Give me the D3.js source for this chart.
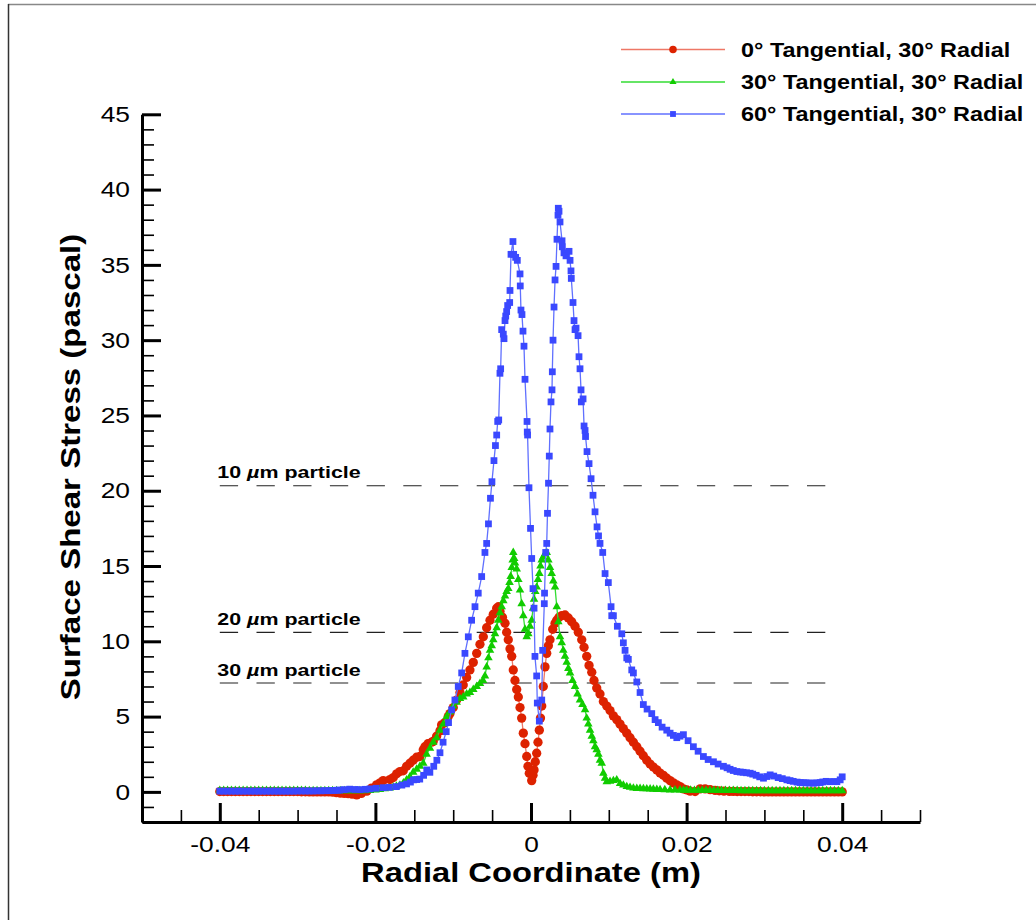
<!DOCTYPE html>
<html>
<head>
<meta charset="utf-8">
<script src="https://cdn.jsdelivr.net/npm/d3@7"></script>
<style>
  html, body { margin: 0; padding: 0; background: #fff; }
  svg { display: block; font-family: "Liberation Sans", Arial, Helvetica, sans-serif; }
</style>
</head>
<body>
<svg id="chart" width="1036" height="920"></svg>
<script>
// ---- DATA (radial coordinate in mm, shear stress in Pa) ----
const seriesNames = ["0° Tangential, 30° Radial", "30° Tangential, 30° Radial", "60° Tangential, 30° Radial"];

const red0 = [[-40,0.02],[-39.5,0.02],[-39,0.02],[-38.5,0.02],[-38,0.02],[-37.5,0.02],[-37,0.02],[-36.5,0.02],[-36,0.02],[-35.5,0.02],[-35,0.02],[-34.5,0.02],[-34,0.02],[-33.5,0.02],[-33,0.02],[-32.5,0.02],[-32,0.02],[-31.5,0.02],[-31,0.02],[-30.5,0.02],[-30,0.02],[-29.5,0.01],[-29,0.01],[-28.5,0],[-28,0],[-27.5,0],[-27,0],[-26.5,0],[-26,0],[-25.5,-0.02],[-25,-0.05],[-24.5,-0.08],[-24,-0.1],[-23.5,-0.12],[-23,-0.15],[-22.4,-0.2],[-21.8,-0.1],[-21.1,0.05],[-20.5,0.25],[-19.85,0.47],[-19.4,0.6],[-19.0,0.75],[-18.14,0.82],[-17.7,0.95],[-17.27,1.2],[-16.85,1.35],[-16.42,1.4],[-15.99,1.7],[-15.56,1.9],[-15.14,2.1],[-14.7,2.3],[-14.28,2.35],[-13.85,2.8],[-13.63,3.0],[-13.25,3.2],[-12.77,3.3],[-12.57,3.35],[-12.13,3.7],[-11.7,4.05],[-11.49,4.45],[-11.06,4.6],[-10.64,5.0],[-10.42,5.2],[-9.99,5.6],[-9.56,6.1],[-9.13,6.6],[-8.71,7.1],[-8.27,7.6],[-7.85,8.1],[-7.42,8.6],[-6.98,9.2],[-6.56,9.8],[-6.13,10.3],[-5.7,10.9],[-5.27,11.4],[-4.85,11.8],[-4.41,12.2],[-4.18,12.3],[-3.99,12.0],[-3.67,11.6],[-3.34,11.2],[-3.13,10.6],[-2.92,10.1],[-2.7,9.5],[-2.48,9.0],[-2.28,8.1],[-2.06,7.4],[-1.84,6.8],[-1.63,6.3],[-1.41,5.6],[-1.2,4.9],[-0.99,3.9],[-0.77,3.2],[-0.55,2.35],[-0.39,1.7],[-0.22,1.24],[0.09,0.75],[0.26,1.1],[0.39,1.46],[0.55,2.0],[0.73,2.57],[0.9,3.3],[1.07,4.1],[1.22,4.9],[1.38,5.7],[1.58,7.0],[1.8,8.3],[2.02,9.2],[2.23,9.7],[2.44,10.1],[2.79,10.8],[3.09,11.2],[3.31,11.4],[3.6,11.6],[3.95,11.7],[4.37,11.75],[4.8,11.55],[5.23,11.3],[5.66,11.0],[6.08,10.6],[6.52,10.1],[6.82,9.6],[7.16,9.0],[7.46,8.4],[7.81,7.95],[8.1,7.4],[8.45,6.9],[8.87,6.5],[9.3,6.0],[9.74,5.7],[10.16,5.4],[10.59,5.05],[11.02,4.8],[11.45,4.5],[11.87,4.2],[12.31,3.9],[12.73,3.6],[13.16,3.3],[13.6,3.0],[14.02,2.7],[14.44,2.4],[14.88,2.1],[15.31,1.85],[15.73,1.65],[16.17,1.46],[16.59,1.25],[17.02,1.1],[17.45,0.91],[17.88,0.75],[18.3,0.6],[18.74,0.47],[19.16,0.35],[19.59,0.2],[20.03,0.13],[20.45,0.05],[21.09,0.02],[21.74,0.2],[22.38,0.2],[23.02,0.15],[23.67,0.1],[24.2,0.07],[24.8,0.05],[25.5,0.03],[26,0.03],[26.5,0.02],[27,0.02],[27.5,0.02],[28,0.02],[28.5,0.01],[29,0.01],[29.5,0.01],[30,0],[30.5,0],[31,0],[31.5,0],[32,0],[32.5,0],[33,0],[33.5,0],[34,0],[34.5,0],[35,0],[35.5,0],[36,0],[36.5,0],[37,0],[37.5,0],[38,0],[38.5,0],[39,0],[39.5,0],[40,0]];

const green30 = [[-40,0.1],[-39.5,0.1],[-39,0.1],[-38.5,0.1],[-38,0.1],[-37.5,0.1],[-37,0.1],[-36.5,0.1],[-36,0.1],[-35.5,0.1],[-35,0.1],[-34.5,0.1],[-34,0.1],[-33.5,0.1],[-33,0.1],[-32.5,0.1],[-32,0.1],[-31.5,0.1],[-31,0.1],[-30.5,0.1],[-30,0.1],[-29.5,0.09],[-29,0.09],[-28.5,0.08],[-28,0.08],[-27.5,0.08],[-27,0.08],[-26.5,0.07],[-26,0.07],[-25.5,0.07],[-25,0.07],[-24.5,0.07],[-24,0.07],[-23.5,0.07],[-23,0.07],[-22.5,0.08],[-22,0.08],[-21.4,0.08],[-20.71,0.09],[-20.0,0.12],[-19.42,0.15],[-18.8,0.2],[-18.14,0.25],[-17.71,0.31],[-17.3,0.38],[-16.85,0.45],[-16.4,0.6],[-15.99,0.8],[-15.56,1.0],[-15.14,1.3],[-14.7,1.5],[-14.28,1.7],[-13.85,1.9],[-13.42,2.5],[-12.99,2.9],[-12.57,3.3],[-12.13,3.6],[-11.7,4.1],[-11.28,4.5],[-10.84,5.0],[-10.42,5.3],[-9.99,5.7],[-9.56,5.95],[-9.13,6.2],[-8.71,6.3],[-8.27,6.5],[-7.85,6.6],[-7.42,6.8],[-6.98,7.0],[-6.56,7.2],[-6.17,7.4],[-5.92,7.7],[-5.7,8.3],[-5.47,8.9],[-5.27,9.4],[-5.05,9.7],[-4.85,10.1],[-4.63,10.5],[-4.41,10.9],[-4.21,11.4],[-3.99,11.9],[-3.77,12.3],[-3.56,12.7],[-3.34,13.0],[-3.13,13.3],[-2.92,13.5],[-2.76,13.9],[-2.61,14.3],[-2.48,14.9],[-2.35,15.4],[-2.28,15.9],[-2.16,15.5],[-2.06,15.2],[-1.84,14.8],[-1.63,14.1],[-1.41,13.4],[-1.2,12.5],[-0.99,11.7],[-0.77,10.8],[-0.55,10.3],[-0.35,10.5],[-0.13,11.0],[0.09,11.4],[0.26,12.2],[0.39,12.8],[0.55,13.3],[0.73,13.6],[0.9,14.1],[1.07,14.5],[1.22,15.0],[1.38,15.4],[1.58,15.6],[1.8,15.8],[2.02,15.9],[2.23,15.4],[2.44,14.9],[2.66,14.5],[2.87,14.0],[3.09,13.6],[3.31,12.3],[3.51,11.3],[3.73,10.3],[3.95,9.9],[4.15,9.4],[4.37,9.0],[4.59,8.6],[4.8,8.2],[5.02,7.9],[5.34,7.4],[5.66,7.0],[5.98,6.5],[6.3,6.1],[6.62,5.8],[6.95,5.45],[7.16,4.9],[7.37,4.5],[7.59,4.1],[7.81,3.7],[8.01,3.4],[8.23,3.0],[8.45,2.8],[8.66,2.5],[8.87,2.1],[9.09,1.9],[9.3,1.24],[9.52,0.9],[9.74,0.68],[10.16,0.7],[10.59,0.75],[11.02,0.8],[11.45,0.55],[11.87,0.45],[12.31,0.35],[12.73,0.3],[13.16,0.25],[13.6,0.23],[14.02,0.22],[14.45,0.21],[14.88,0.2],[15.31,0.19],[15.73,0.18],[16.17,0.16],[16.59,0.15],[17.2,0.14],[17.88,0.13],[18.5,0.12],[19.16,0.12],[19.6,0.11],[20,0.11],[20.5,0.11],[21,0.1],[21.5,0.1],[22,0.1],[22.5,0.1],[23,0.1],[23.5,0.1],[24,0.09],[24.5,0.09],[25,0.09],[25.5,0.09],[26,0.09],[26.5,0.09],[27,0.08],[27.5,0.08],[28,0.08],[28.5,0.08],[29,0.08],[29.5,0.08],[30,0.08],[30.5,0.08],[31,0.08],[31.5,0.07],[32,0.07],[32.5,0.07],[33,0.07],[33.5,0.07],[34,0.07],[34.5,0.07],[35,0.07],[35.5,0.07],[36,0.07],[36.5,0.07],[37,0.07],[37.5,0.07],[38,0.07],[38.5,0.07],[39,0.07],[39.5,0.07],[40,0.07]];

const blue60 = [[-40,0.05],[-39.5,0.05],[-39,0.05],[-38.5,0.05],[-38,0.05],[-37.5,0.05],[-37,0.05],[-36.5,0.05],[-36,0.05],[-35.5,0.05],[-35,0.05],[-34.5,0.05],[-34,0.05],[-33.5,0.05],[-33,0.05],[-32.5,0.05],[-32,0.05],[-31.5,0.05],[-31,0.05],[-30.5,0.05],[-30,0.06],[-29.5,0.06],[-29,0.06],[-28.5,0.06],[-28,0.06],[-27.5,0.07],[-27,0.07],[-26.5,0.08],[-26,0.08],[-25.6,0.09],[-25.3,0.1],[-24.9,0.11],[-24.6,0.12],[-24,0.15],[-23.3,0.18],[-22.6,0.16],[-22.0,0.15],[-21.3,0.17],[-20.7,0.2],[-19.9,0.24],[-19.0,0.28],[-18.2,0.3],[-17.3,0.35],[-16.6,0.45],[-16.0,0.53],[-15.5,0.65],[-15.1,0.8],[-14.7,0.82],[-14.3,0.85],[-13.8,1.1],[-13.4,1.46],[-13.0,1.3],[-12.5,1.7],[-12.1,2.1],[-11.7,2.6],[-11.3,3.3],[-10.9,4.0],[-10.6,4.6],[-10.2,5.45],[-9.78,6.1],[-9.35,7.0],[-8.91,7.9],[-8.49,9.2],[-8.06,10.3],[-7.63,11.4],[-7.2,12.3],[-6.78,13.2],[-6.34,14.3],[-5.92,15.9],[-5.7,16.5],[-5.47,17.8],[-5.21,19.5],[-5.02,20.6],[-4.76,22.0],[-4.57,23.0],[-4.41,23.7],[-4.28,24.6],[-4.15,24.7],[-3.99,27.8],[-3.9,28.1],[-3.77,30.7],[-3.56,30.4],[-3.47,30.1],[-3.34,31.3],[-3.25,31.6],[-3.13,31.9],[-3.0,32.3],[-2.74,32.5],[-2.7,33.3],[-2.57,35.7],[-2.32,36.55],[-2.23,35.7],[-1.97,35.5],[-1.76,35.3],[-1.41,34.4],[-1.38,33.6],[-1.29,32.0],[-1.16,31.7],[-1.03,30.6],[-0.9,29.6],[-0.77,27.4],[-0.51,24.6],[-0.48,23.9],[-0.44,23.7],[-0.26,20.2],[-0.06,17.5],[0.09,15.5],[0.26,13.5],[0.39,12.2],[0.51,9.0],[0.73,7.7],[0.81,5.9],[1.07,4.7],[1.38,6.1],[1.5,9.4],[1.71,12.5],[1.74,13.2],[1.89,15.9],[2.02,16.5],[2.12,18.5],[2.25,20.5],[2.35,22.3],[2.44,24.1],[2.57,25.9],[2.7,26.7],[2.74,27.9],[2.83,30.0],[2.96,32.2],[3.09,34.0],[3.22,34.9],[3.34,36.7],[3.47,38.3],[3.51,38.76],[3.6,38.56],[3.73,37.85],[3.99,36.6],[4.03,36.2],[4.24,35.8],[4.5,35.6],[4.89,35.9],[5.02,35.3],[5.14,34.6],[5.18,34.1],[5.4,32.5],[5.53,31.3],[5.66,30.7],[5.79,30.8],[6.05,30.3],[6.17,28.9],[6.3,28.1],[6.43,26.7],[6.47,25.9],[6.69,26.1],[6.82,24.3],[6.95,24.0],[7.01,23.6],[7.2,22.6],[7.46,21.8],[7.72,20.8],[7.97,19.7],[8.23,18.6],[8.49,17.6],[8.68,17.0],[8.87,16.5],[9.22,15.9],[9.52,14.5],[9.94,13.9],[10.29,12.3],[10.38,11.7],[10.59,11.7],[11.1,11.0],[11.67,10.5],[11.87,9.9],[12.09,9.4],[12.31,8.9],[12.51,8.8],[12.95,8.1],[13.16,7.9],[13.6,7.3],[14.02,6.6],[14.44,5.8],[14.92,5.5],[15.52,5.2],[15.95,4.8],[16.37,4.6],[16.85,4.3],[17.45,4.1],[17.88,3.9],[18.3,3.75],[18.74,3.6],[19.16,3.7],[19.59,3.8],[20.19,3.4],[20.87,3.0],[21.48,2.7],[22.16,2.35],[22.77,2.15],[23.45,2.0],[24.05,1.85],[24.73,1.7],[25.2,1.6],[25.59,1.5],[26.0,1.42],[26.46,1.35],[26.9,1.32],[27.27,1.3],[27.7,1.27],[28.17,1.24],[28.5,1.18],[28.94,1.1],[29.4,1.0],[29.88,0.91],[30.3,1.02],[30.74,1.13],[31.2,1.05],[31.77,0.95],[32.3,0.88],[32.89,0.8],[33.3,0.75],[33.7,0.7],[34.2,0.65],[34.6,0.62],[35.0,0.61],[35.37,0.6],[35.8,0.59],[36.31,0.58],[36.7,0.6],[37.17,0.62],[37.5,0.66],[37.94,0.7],[38.46,0.68],[38.9,0.68],[39.32,0.68],[39.74,0.8],[40,1.0]];

// particle-removal threshold levels (Pa)
const particleSizes = ["10", "20", "30"];
const particleThresholds = [20.33, 10.6, 7.23];

// axis ticks
const xMajorTicks = [-0.04, -0.02, 0, 0.02, 0.04];
const yMajorTicks = [0, 5, 10, 15, 20, 25, 30, 35, 40, 45];

// ---- STYLE ----
const seriesStyle = [
  { data: red0,    line: "#ee7766", fill: "#dd2200", shape: "circle" },
  { data: green30, line: "#33dd33", fill: "#11cc00", shape: "triangle" },
  { data: blue60,  line: "#6070ff", fill: "#3a48ff", shape: "square" }
];

const svg = d3.select("#chart");
const x = d3.scaleLinear().domain([-0.05, 0.05]).range([142, 920]);
const y = d3.scaleLinear().domain([-2, 45]).range([822, 114.3]);

function stretch(sel, f) {
  sel.each(function () {
    const w = this.getComputedTextLength();
    this.setAttribute("textLength", (w * f).toFixed(1));
    this.setAttribute("lengthAdjust", "spacingAndGlyphs");
  });
}

// frame
svg.append("line").attr("x1", 8).attr("x2", 1036).attr("y1", 4.5).attr("y2", 4.5).attr("stroke", "#888").attr("stroke-width", 1.5);
svg.append("line").attr("x1", 8.5).attr("x2", 8.5).attr("y1", 4).attr("y2", 920).attr("stroke", "#333").attr("stroke-width", 1.5);

// minor ticks
const xMinor = d3.range(-50, 51, 5).map(v => v / 1000).filter(v => Math.abs(Math.round(v * 1000) % 20) !== 0 || Math.abs(v) > 0.045);
const yMinor = d3.range(-2, 46, 1).filter(v => v % 5 !== 0);

const gxMinor = svg.append("g").attr("transform", "translate(0,822)")
  .call(d3.axisBottom(x).tickValues(xMinor).tickSize(-12).tickFormat(""));
gxMinor.select(".domain").remove();
gxMinor.selectAll(".tick line").attr("stroke", "#000").attr("stroke-width", 1.6);

const gyMinor = svg.append("g").attr("transform", "translate(142,0)")
  .call(d3.axisLeft(y).tickValues(yMinor).tickSize(-12).tickFormat(""));
gyMinor.select(".domain").remove();
gyMinor.selectAll(".tick line").attr("stroke", "#000").attr("stroke-width", 1.6);

// major axes
const gx = svg.append("g").attr("transform", "translate(0,822)")
  .call(d3.axisBottom(x).tickValues(xMajorTicks).tickSize(-19).tickSizeOuter(0).tickPadding(14)
    .tickFormat(d => d === 0 ? "0" : d.toFixed(2)));
gx.select(".domain").attr("stroke", "#000").attr("stroke-width", 3);
gx.selectAll(".tick line").attr("stroke", "#000").attr("stroke-width", 3);
gx.selectAll(".tick text").attr("font-size", 22.5).attr("fill", "#000").attr("font-family", "Liberation Sans, Arial, sans-serif");
stretch(gx.selectAll(".tick text"), 1.17);

const gy = svg.append("g").attr("transform", "translate(142,0)")
  .call(d3.axisLeft(y).tickValues(yMajorTicks).tickSize(-19).tickSizeOuter(0).tickPadding(12));
gy.select(".domain").attr("stroke", "#000").attr("stroke-width", 3);
gy.selectAll(".tick line").attr("stroke", "#000").attr("stroke-width", 3);
gy.selectAll(".tick text").attr("font-size", 22.5).attr("fill", "#000").attr("font-family", "Liberation Sans, Arial, sans-serif");
stretch(gy.selectAll(".tick text"), 1.17);

// axis titles
const xt = svg.append("text").attr("x", x(0)).attr("y", 882).attr("text-anchor", "middle")
  .attr("font-size", 28).attr("font-weight", "bold").text("Radial Coordinate (m)");
stretch(xt, 1.168);
const yt = svg.append("text").attr("transform", "translate(80," + 467 + ") rotate(-90)").attr("text-anchor", "middle")
  .attr("font-size", 28).attr("font-weight", "bold").text("Surface Shear Stress (pascal)");
stretch(yt, 1.18);

// particle threshold lines
particleThresholds.forEach((t, i) => {
  svg.append("line").attr("x1", x(-0.04)).attr("x2", x(0.04)).attr("y1", y(t)).attr("y2", y(t))
    .attr("stroke", "#222").attr("stroke-width", 1.2).attr("stroke-dasharray", "18.3 18.4");
  const tx = svg.append("text")
    .attr("transform", "translate(" + (x(-0.04) - 2.5) + "," + (y(t) - 7.5) + ") scale(1.3,1)")
    .attr("font-size", 16.5).attr("font-weight", "bold");
  tx.append("tspan").text(particleSizes[i] + " ");
  tx.append("tspan").attr("font-style", "italic").text("µ");
  tx.append("tspan").text("m particle");
});

// marker symbol generator
function marker(shape, size) {
  const t = shape === "circle" ? d3.symbolCircle : shape === "triangle" ? d3.symbolTriangle : d3.symbolSquare;
  return d3.symbol().type(t).size(size)();
}
const markerSize = { circle: 68, triangle: 32, square: 46 };

// series
const line = d3.line().x(d => x(d[0] / 1000)).y(d => y(d[1]));
seriesStyle.forEach(s => {
  svg.append("path").datum(s.data).attr("d", line).attr("fill", "none")
    .attr("stroke", s.line).attr("stroke-width", 1.3);
  svg.append("g").selectAll("path").data(s.data).join("path")
    .attr("transform", d => "translate(" + x(d[0] / 1000) + "," + y(d[1]) + ")")
    .attr("d", marker(s.shape, markerSize[s.shape]))
    .attr("fill", s.fill);
});

// legend
const legendY = [49.5, 82, 114];
seriesStyle.forEach((s, i) => {
  svg.append("line").attr("x1", 621).attr("x2", 725).attr("y1", legendY[i]).attr("y2", legendY[i])
    .attr("stroke", s.line).attr("stroke-width", 1.5);
  svg.append("path").attr("transform", "translate(673," + legendY[i] + ")")
    .attr("d", marker(s.shape, s.shape === "circle" ? 44 : s.shape === "triangle" ? 22 : 34)).attr("fill", s.fill);
  const lt = svg.append("text").attr("x", 741).attr("y", legendY[i] + 7).attr("font-size", 19.5).attr("font-weight", "bold")
    .text(seriesNames[i]);
  stretch(lt, 1.2);
});
</script>
</body>
</html>
